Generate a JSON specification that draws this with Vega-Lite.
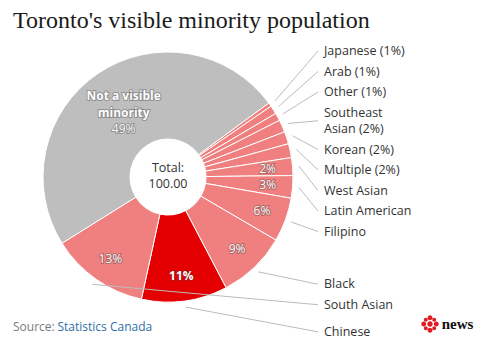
{
  "$schema": "https://vega.github.io/schema/vega-lite/v6.json",
  "width": 479,
  "height": 319,
  "autosize": {"type": "none"},
  "padding": {"left": 0, "top": 40, "right": 0, "bottom": 0},
  "background": "white",
  "title": {
    "text": "Toronto's visible minority population",
    "anchor": "start",
    "frame": "group",
    "dx": 13,
    "offset": -11.5,
    "baseline": "alphabetic",
    "font": "Liberation Serif",
    "fontSize": 24,
    "fontWeight": "normal",
    "color": "#1a1a1a"
  },
  "config": {"view": {"stroke": null}, "text": {"font": "Open Sans"}},
  "data": {
    "values": [
      {"name": "Japanese", "value": 0.5, "inner": "", "outer": "Japanese (1%)"},
      {"name": "Arab", "value": 1.1, "inner": "", "outer": "Arab (1%)"},
      {"name": "Other", "value": 1.0, "inner": "", "outer": "Other (1%)"},
      {"name": "Southeast Asian", "value": 1.6, "inner": "", "outer": "Southeast\nAsian (2%)"},
      {"name": "Korean", "value": 1.6, "inner": "", "outer": "Korean (2%)"},
      {"name": "Multiple", "value": 1.8, "inner": "", "outer": "Multiple (2%)"},
      {"name": "West Asian", "value": 2.3, "inner": "2%", "outer": "West Asian"},
      {"name": "Latin American", "value": 2.9, "inner": "3%", "outer": "Latin American"},
      {"name": "Filipino", "value": 5.7, "inner": "6%", "outer": "Filipino"},
      {"name": "Black", "value": 8.9, "inner": "9%", "outer": "Black"},
      {"name": "Chinese", "value": 11.1, "inner": "11%", "outer": "Chinese"},
      {"name": "South Asian", "value": 12.7, "inner": "13%", "outer": "South Asian"},
      {"name": "Not a visible minority", "value": 48.8, "inner": "49%", "outer": ""}
    ]
  },
  "transform": [{"window": [{"op": "row_number", "as": "i"}]}],
  "layer": [
    {
      "mark": {"type": "arc", "innerRadius": 38, "outerRadius": 125, "stroke": "white", "strokeWidth": 1},
      "encoding": {
        "x": {"datum": 0, "type": "quantitative", "scale": {"domain": [-1.344, 2.488], "nice": false, "zero": false}, "axis": null},
        "y": {"datum": 0, "type": "quantitative", "scale": {"domain": [-1.456, 1.096], "nice": false, "zero": false}, "axis": null},
        "theta": {"field": "value", "type": "quantitative", "stack": true, "scale": {"range": [0.9372, 7.2204]}},
        "order": {"field": "i", "type": "quantitative"},
        "color": {
          "field": "name", "type": "nominal", "legend": null,
          "scale": {
            "domain": ["Japanese", "Arab", "Other", "Southeast Asian", "Korean", "Multiple", "West Asian", "Latin American", "Filipino", "Black", "Chinese", "South Asian", "Not a visible minority"],
            "range": ["#f08080", "#f08080", "#f08080", "#f08080", "#f08080", "#f08080", "#f08080", "#f08080", "#f08080", "#f08080", "#e40000", "#f08080", "#bebebe"]
          }
        }
      }
    },
    {
      "encoding": {
        "x": {"datum": 0, "type": "quantitative", "axis": null},
        "y": {"datum": 0, "type": "quantitative", "axis": null},
        "theta": {"field": "value", "type": "quantitative", "stack": true},
        "order": {"field": "i", "type": "quantitative"}
      },
      "layer": [
        {
          "mark": {"type": "text", "radius": 100, "fontSize": 12, "stroke": "#3a3a3a", "strokeWidth": 2, "strokeOpacity": 0.35, "fill": "#3a3a3a", "fillOpacity": 0.35, "baseline": "middle"},
          "encoding": {"text": {"condition": {"test": "datum.name === 'Chinese' || datum.name === 'Not a visible minority'", "value": ""}, "field": "inner"}}
        },
        {
          "mark": {"type": "text", "radius": 100, "fontSize": 12, "fill": "white", "baseline": "middle"},
          "encoding": {"text": {"condition": {"test": "datum.name === 'Chinese' || datum.name === 'Not a visible minority'", "value": ""}, "field": "inner"}}
        },
        {
          "mark": {"type": "text", "radius": 100, "fontSize": 12, "fontWeight": "bold", "stroke": "#3a3a3a", "strokeWidth": 2, "strokeOpacity": 0.35, "fill": "#3a3a3a", "fillOpacity": 0.35, "baseline": "middle"},
          "encoding": {"text": {"condition": {"test": "datum.name === 'Chinese'", "field": "inner"}, "value": ""}}
        },
        {
          "mark": {"type": "text", "radius": 100, "fontSize": 12, "fontWeight": "bold", "fill": "white", "baseline": "middle"},
          "encoding": {"text": {"condition": {"test": "datum.name === 'Chinese'", "field": "inner"}, "value": ""}}
        },
        {
          "mark": {"type": "text", "radius": 79, "dy": -16, "lineHeight": 17, "fontSize": 12, "fontWeight": "bold", "stroke": "#3a3a3a", "strokeWidth": 2, "strokeOpacity": 0.35, "fill": "#3a3a3a", "fillOpacity": 0.35, "baseline": "middle"},
          "encoding": {"text": {"condition": {"test": "datum.name === 'Not a visible minority'", "value": ["Not a visible", "minority"]}, "value": ""}}
        },
        {
          "mark": {"type": "text", "radius": 79, "dy": -16, "lineHeight": 17, "fontSize": 12, "fontWeight": "bold", "fill": "white", "baseline": "middle"},
          "encoding": {"text": {"condition": {"test": "datum.name === 'Not a visible minority'", "value": ["Not a visible", "minority"]}, "value": ""}}
        },
        {
          "mark": {"type": "text", "radius": 79, "dy": 17.5, "fontSize": 12, "stroke": "#3a3a3a", "strokeWidth": 2, "strokeOpacity": 0.35, "fill": "#3a3a3a", "fillOpacity": 0.35, "baseline": "middle"},
          "encoding": {"text": {"condition": {"test": "datum.name === 'Not a visible minority'", "field": "inner"}, "value": ""}}
        },
        {
          "mark": {"type": "text", "radius": 79, "dy": 17.5, "fontSize": 12, "fill": "white", "baseline": "middle"},
          "encoding": {"text": {"condition": {"test": "datum.name === 'Not a visible minority'", "field": "inner"}, "value": ""}}
        }
      ]
    },
    {
      "transform": [
        {"joinaggregate": [{"op": "sum", "field": "value", "as": "total"}]},
        {"window": [{"op": "sum", "field": "value", "as": "cum"}], "sort": [{"field": "i"}], "frame": [null, 0]},
        {"filter": "datum.outer !== ''"},
        {"calculate": "0.9372 + 2 * PI * (datum.cum - datum.value / 2) / datum.total", "as": "ang"},
        {"calculate": "length(split(datum.outer, '\\n'))", "as": "nl"},
        {"calculate": "0.164 + (datum.nl - 1) * 0.132", "as": "h"},
        {"calculate": "-1.25 * cos(datum.ang)", "as": "dn"},
        {"window": [{"op": "row_number", "as": "slot"}], "sort": [{"field": "dn", "order": "ascending"}]},
        {"window": [{"op": "sum", "field": "h", "as": "pc"}], "sort": [{"field": "slot", "order": "ascending"}], "frame": [null, 0]},
        {"calculate": "datum.dn - (datum.pc - datum.h) - datum.h / 2", "as": "q"},
        {"window": [{"op": "min", "field": "q", "as": "qm"}], "sort": [{"field": "slot", "order": "ascending"}], "frame": [0, null]},
        {"calculate": "-((datum.pc - datum.h) + datum.h / 2 + max(-1.09, datum.qm))", "as": "ly"},
        {"calculate": "datum.ly + (datum.nl - 1) * 0.066", "as": "ty"},
        {"calculate": "1.05 * sin(datum.ang)", "as": "lx0"},
        {"calculate": "1.05 * cos(datum.ang)", "as": "ly0"}
      ],
      "layer": [
        {
          "mark": {"type": "rule", "color": "#bbbbbb", "strokeWidth": 1},
          "encoding": {
            "x": {"field": "lx0", "type": "quantitative", "scale": {"domain": [-1.344, 2.488], "nice": false, "zero": false}, "axis": null},
            "y": {"field": "ly0", "type": "quantitative", "scale": {"domain": [-1.456, 1.096], "nice": false, "zero": false}, "axis": null},
            "x2": {"datum": 1.2},
            "y2": {"field": "ly"}
          }
        },
        {
          "mark": {"type": "text", "align": "left", "baseline": "middle", "fontSize": 12.5, "color": "#333333", "lineBreak": "\n", "lineHeight": 16.5},
          "encoding": {
            "x": {"datum": 1.248, "type": "quantitative", "axis": null},
            "y": {"field": "ty", "type": "quantitative", "axis": null},
            "text": {"field": "outer"}
          }
        }
      ]
    },
    {
      "transform": [{"aggregate": [{"op": "sum", "field": "value", "as": "total"}]}],
      "encoding": {
        "x": {"datum": 0, "type": "quantitative", "axis": null},
        "y": {"datum": 0, "type": "quantitative", "axis": null}
      },
      "layer": [
        {"mark": {"type": "text", "fontSize": 12.5, "color": "#333333", "dy": -9, "baseline": "middle"}, "encoding": {"text": {"value": "Total:"}}},
        {"mark": {"type": "text", "fontSize": 12.5, "color": "#333333", "dy": 7, "baseline": "middle"}, "encoding": {"text": {"field": "total", "type": "quantitative", "format": ".2f"}}}
      ]
    },
    {
      "data": {"values": [{"source": "Statistics Canada", "brand": "news"}]},
      "layer": [
        {
          "mark": {"type": "text", "align": "left", "baseline": "middle", "fontSize": 12, "color": "#7a7a7a"},
          "encoding": {"x": {"datum": -1.24, "type": "quantitative", "axis": null}, "y": {"datum": -1.2, "type": "quantitative", "axis": null}, "text": {"value": "Source:"}}
        },
        {
          "mark": {"type": "text", "align": "left", "baseline": "middle", "fontSize": 12, "color": "#2f6ea8"},
          "encoding": {"x": {"datum": -0.884, "type": "quantitative", "axis": null}, "y": {"datum": -1.2, "type": "quantitative", "axis": null}, "text": {"field": "source"}}
        },
        {
          "mark": {
            "type": "point", "filled": true, "color": "#e01b22", "opacity": 1, "size": 324,
            "shape": "M-0.3,0a0.3,0.3 0 1,0 0.6,0a0.3,0.3 0 1,0 -0.6,0ZM-0.27,-0.7a0.27,0.27 0 1,0 0.54,0a0.27,0.27 0 1,0 -0.54,0ZM-0.27,0.7a0.27,0.27 0 1,0 0.54,0a0.27,0.27 0 1,0 -0.54,0ZM0.43,0a0.27,0.27 0 1,0 0.54,0a0.27,0.27 0 1,0 -0.54,0ZM-0.97,0a0.27,0.27 0 1,0 0.54,0a0.27,0.27 0 1,0 -0.54,0ZM0.247,-0.467a0.22,0.22 0 1,0 0.44,0a0.22,0.22 0 1,0 -0.44,0ZM-0.687,-0.467a0.22,0.22 0 1,0 0.44,0a0.22,0.22 0 1,0 -0.44,0ZM0.247,0.467a0.22,0.22 0 1,0 0.44,0a0.22,0.22 0 1,0 -0.44,0ZM-0.687,0.467a0.22,0.22 0 1,0 0.44,0a0.22,0.22 0 1,0 -0.44,0Z"
          },
          "encoding": {"x": {"datum": 2.096, "type": "quantitative", "axis": null}, "y": {"datum": -1.176, "type": "quantitative", "axis": null}}
        },
        {
          "mark": {"type": "text", "align": "left", "baseline": "middle", "font": "Liberation Serif", "fontSize": 15, "fontWeight": "bold", "color": "#111111"},
          "encoding": {"x": {"datum": 2.19, "type": "quantitative", "axis": null}, "y": {"datum": -1.176, "type": "quantitative", "axis": null}, "text": {"field": "brand"}}
        }
      ]
    }
  ]
}
